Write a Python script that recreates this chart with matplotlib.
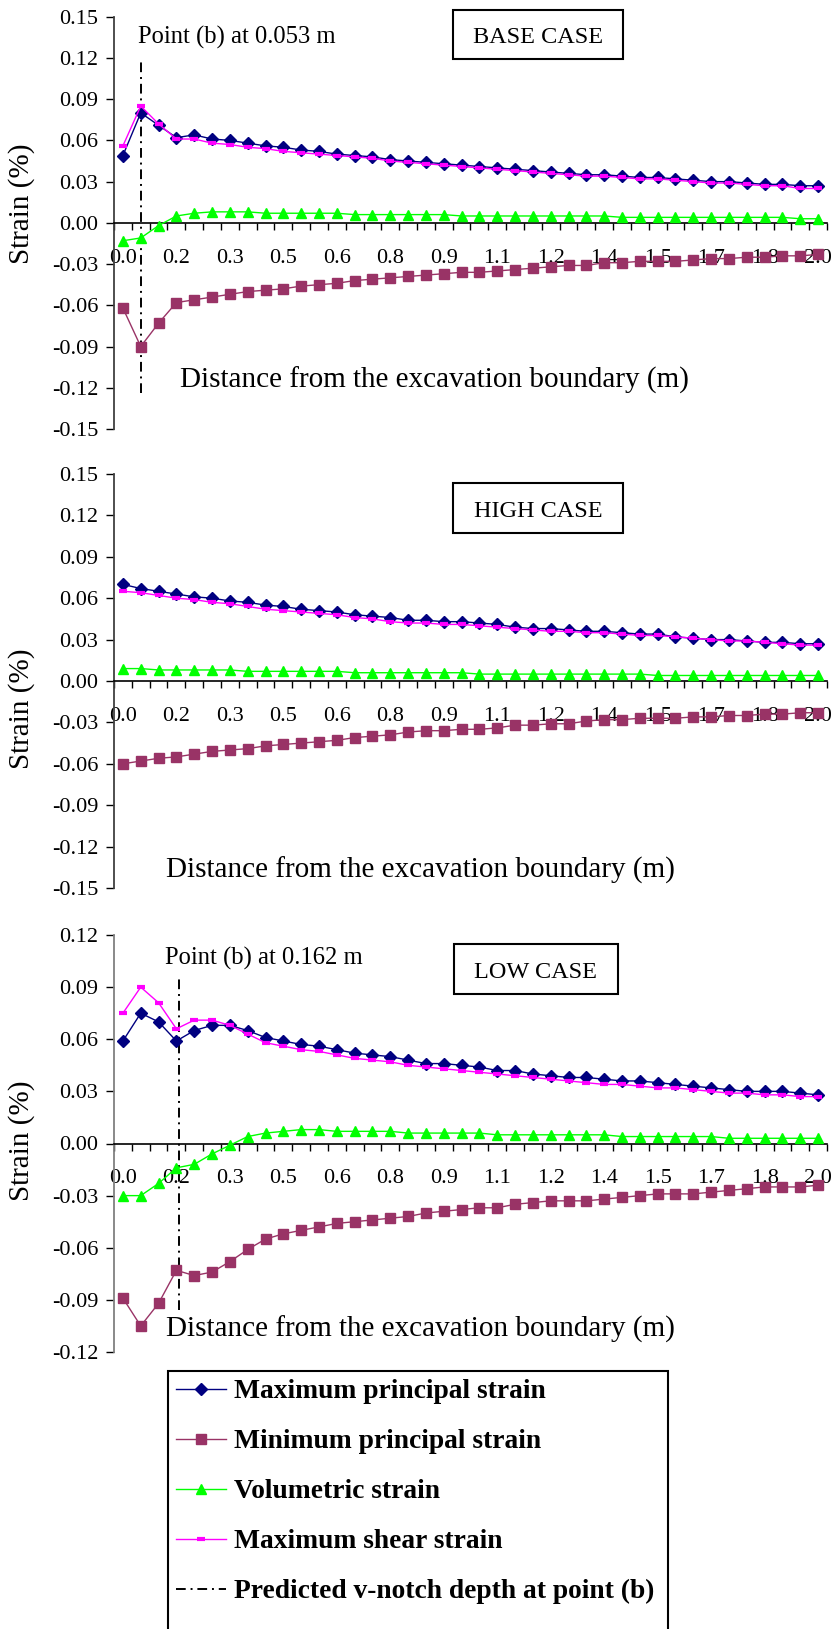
import numpy as np
import matplotlib
matplotlib.use("Agg")
import matplotlib.pyplot as plt
from matplotlib.patches import Rectangle
from matplotlib.lines import Line2D

plt.rcParams['font.family'] = ['Liberation Serif', 'DejaVu Serif']
plt.rcParams['axes.unicode_minus'] = False

# distance from the excavation boundary (m), 40 nodes
dist = np.linspace(0.0, 2.0, 40)

# BASE CASE
base_max = [0.049, 0.080, 0.071, 0.062, 0.064, 0.061, 0.060, 0.058, 0.056, 0.055,
            0.053, 0.052, 0.050, 0.049, 0.048, 0.046, 0.045, 0.044, 0.043, 0.042,
            0.041, 0.040, 0.039, 0.038, 0.037, 0.036, 0.035, 0.035, 0.034, 0.033,
            0.033, 0.032, 0.031, 0.030, 0.030, 0.029, 0.028, 0.028, 0.027, 0.027]
base_min = [-0.062, -0.090, -0.073, -0.058, -0.056, -0.054, -0.052, -0.050, -0.049, -0.048,
            -0.046, -0.045, -0.044, -0.042, -0.041, -0.040, -0.039, -0.038, -0.037, -0.036,
            -0.036, -0.035, -0.034, -0.033, -0.032, -0.031, -0.031, -0.029, -0.029, -0.028,
            -0.028, -0.028, -0.027, -0.026, -0.026, -0.025, -0.025, -0.024, -0.024, -0.023]
base_vol = [-0.013, -0.011, -0.002, 0.005, 0.007, 0.008, 0.008, 0.008, 0.007, 0.007,
            0.007, 0.007, 0.007, 0.006, 0.006, 0.006, 0.006, 0.006, 0.006, 0.005,
            0.005, 0.005, 0.005, 0.005, 0.005, 0.005, 0.005, 0.005, 0.004, 0.004,
            0.004, 0.004, 0.004, 0.004, 0.004, 0.004, 0.004, 0.004, 0.003, 0.003]
base_shear = [0.056, 0.085, 0.072, 0.061, 0.061, 0.058, 0.057, 0.055, 0.054, 0.052,
              0.051, 0.050, 0.049, 0.048, 0.047, 0.045, 0.044, 0.043, 0.042, 0.041,
              0.040, 0.039, 0.038, 0.037, 0.036, 0.035, 0.034, 0.034, 0.033, 0.032,
              0.032, 0.031, 0.030, 0.029, 0.029, 0.028, 0.027, 0.027, 0.025, 0.025]

# HIGH CASE
high_max = [0.070, 0.067, 0.065, 0.063, 0.061, 0.060, 0.058, 0.057, 0.055, 0.054,
            0.052, 0.051, 0.050, 0.048, 0.047, 0.046, 0.044, 0.044, 0.043, 0.043,
            0.042, 0.041, 0.039, 0.038, 0.038, 0.037, 0.036, 0.036, 0.035, 0.034,
            0.034, 0.032, 0.031, 0.030, 0.030, 0.029, 0.028, 0.028, 0.027, 0.027]
high_min = [-0.060, -0.058, -0.056, -0.055, -0.053, -0.051, -0.050, -0.049, -0.047, -0.046,
            -0.045, -0.044, -0.043, -0.041, -0.040, -0.039, -0.037, -0.036, -0.036, -0.035,
            -0.035, -0.034, -0.032, -0.032, -0.031, -0.031, -0.029, -0.028, -0.028, -0.027,
            -0.027, -0.027, -0.026, -0.026, -0.025, -0.025, -0.024, -0.024, -0.023, -0.023]
high_vol = [0.009, 0.009, 0.008, 0.008, 0.008, 0.008, 0.008, 0.007, 0.007, 0.007,
            0.007, 0.007, 0.007, 0.006, 0.006, 0.006, 0.006, 0.006, 0.006, 0.006,
            0.005, 0.005, 0.005, 0.005, 0.005, 0.005, 0.005, 0.005, 0.005, 0.005,
            0.004, 0.004, 0.004, 0.004, 0.004, 0.004, 0.004, 0.004, 0.004, 0.004]
high_shear = [0.065, 0.064, 0.062, 0.060, 0.059, 0.057, 0.056, 0.054, 0.052, 0.051,
              0.050, 0.049, 0.048, 0.046, 0.045, 0.043, 0.042, 0.042, 0.041, 0.041,
              0.040, 0.039, 0.038, 0.037, 0.036, 0.036, 0.035, 0.035, 0.034, 0.033,
              0.033, 0.032, 0.031, 0.030, 0.029, 0.029, 0.028, 0.027, 0.026, 0.026]

# LOW CASE
low_max = [0.059, 0.075, 0.070, 0.059, 0.065, 0.068, 0.068, 0.065, 0.061, 0.059,
           0.057, 0.056, 0.054, 0.052, 0.051, 0.050, 0.048, 0.046, 0.046, 0.045,
           0.044, 0.042, 0.042, 0.040, 0.039, 0.038, 0.038, 0.037, 0.036, 0.036,
           0.035, 0.034, 0.033, 0.032, 0.031, 0.030, 0.030, 0.030, 0.029, 0.028]
low_min = [-0.089, -0.105, -0.092, -0.073, -0.076, -0.074, -0.068, -0.061, -0.055, -0.052,
           -0.050, -0.048, -0.046, -0.045, -0.044, -0.043, -0.042, -0.040, -0.039, -0.038,
           -0.037, -0.037, -0.035, -0.034, -0.033, -0.033, -0.033, -0.032, -0.031, -0.030,
           -0.029, -0.029, -0.029, -0.028, -0.027, -0.026, -0.025, -0.025, -0.025, -0.024]
low_vol = [-0.030, -0.030, -0.023, -0.014, -0.012, -0.006, -0.001, 0.004, 0.006, 0.007,
           0.008, 0.008, 0.007, 0.007, 0.007, 0.007, 0.006, 0.006, 0.006, 0.006,
           0.006, 0.005, 0.005, 0.005, 0.005, 0.005, 0.005, 0.005, 0.004, 0.004,
           0.004, 0.004, 0.004, 0.004, 0.003, 0.003, 0.003, 0.003, 0.003, 0.003]
low_shear = [0.075, 0.090, 0.081, 0.066, 0.071, 0.071, 0.068, 0.063, 0.058, 0.056,
             0.054, 0.053, 0.051, 0.049, 0.048, 0.047, 0.045, 0.044, 0.043, 0.042,
             0.041, 0.040, 0.039, 0.038, 0.037, 0.036, 0.035, 0.034, 0.034, 0.033,
             0.032, 0.032, 0.031, 0.030, 0.029, 0.029, 0.028, 0.028, 0.027, 0.027]

yticks_wide = [-0.15, -0.12, -0.09, -0.06, -0.03, 0.00, 0.03, 0.06, 0.09, 0.12, 0.15]
yticks_low = [-0.12, -0.09, -0.06, -0.03, 0.00, 0.03, 0.06, 0.09, 0.12]

notch_base = 0.053
notch_low = 0.162

series_names = ['Maximum principal strain', 'Minimum principal strain',
                'Volumetric strain', 'Maximum shear strain']
notch_name = 'Predicted v-notch depth at point (b)'

W, H = 836, 1629
fig = plt.figure(figsize=(W / 100, H / 100), dpi=100)


def fx(x):
    return x / W


def fy(y):
    return 1 - y / H


idx = np.arange(len(dist))
step = dist[1] - dist[0]
xlabels = ['%.1f' % d for d in dist[::3]]

styles = [
    dict(color='#000080', marker='D', markersize=6.5),
    dict(color='#993366', marker='s', markersize=6.5),
    dict(color='#00FF00', marker='^', markersize=7.5),
    dict(color='#FF00FF', marker='_', markersize=6, markeredgewidth=3),
]
notch_style = dict(color='black', lw=1.4, ls=(0, (5, 2.5, 1, 2.5)))


def panel(top, bottom, series, yticks, spine_color):
    ax = fig.add_axes([fx(114), fy(bottom), fx(827) - fx(114), (bottom - top) / H])
    ax.set_xlim(-0.5, len(dist) - 0.5)
    ax.set_ylim(yticks[0], yticks[-1])
    ax.spines['top'].set_visible(False)
    ax.spines['right'].set_visible(False)
    ax.spines['bottom'].set_position(('data', 0))
    ax.spines['bottom'].set_linewidth(1.2)
    ax.spines['left'].set_color(spine_color)
    ax.spines['left'].set_linewidth(1.3)

    ax.set_xticks(np.arange(-0.5, len(dist), 1))
    ax.tick_params(axis='x', which='major', direction='out', length=5, width=1,
                   labelbottom=False)
    ax.set_xticks(idx[::3], minor=True)
    ax.set_xticklabels(xlabels, minor=True)
    ax.tick_params(axis='x', which='minor', length=0, pad=18.5, labelsize=16)

    ax.set_yticks(yticks)
    ax.set_yticklabels(['%.2f' % v for v in yticks])
    ax.tick_params(axis='y', direction='out', length=5.5, width=1, pad=6,
                   labelsize=16)

    lines = []
    for vals, st in zip(series, styles):
        ln, = ax.plot(idx, vals, lw=1.0, zorder=3, clip_on=False, **st)
        lines.append(ln)
    return ax, lines


ax1, handles = panel(16.7, 429, [base_max, base_min, base_vol, base_shear],
                     yticks_wide, '#404040')
ax2, _ = panel(474, 888, [high_max, high_min, high_vol, high_shear],
               yticks_wide, '#404040')
ax3, _ = panel(935, 1352, [low_max, low_min, low_vol, low_shear],
               yticks_low, '#808080')

# predicted v-notch depth at point (b)
ax1.axvline(notch_base / step, ymin=0.087, ymax=0.89, **notch_style)
ax3.axvline(notch_low / step, ymin=0.10, ymax=0.894, **notch_style)

fig.text(fx(138), fy(44), 'Point (b) at 0.053 m', fontsize=17.7, va='baseline')
fig.text(fx(165), fy(965), 'Point (b) at 0.162 m', fontsize=17.7, va='baseline')

# case boxes
for (x0, y0, x1, y1), name in [((453, 10, 623, 59), 'BASE CASE'),
                               ((453, 483, 623, 533), 'HIGH CASE'),
                               ((454, 944, 618, 994), 'LOW CASE')]:
    fig.add_artist(Rectangle((fx(x0), fy(y1)), fx(x1) - fx(x0), (y1 - y0) / H,
                             transform=fig.transFigure, fill=False,
                             ec='black', lw=1.5))
    fig.text(fx((x0 + x1) / 2), fy(y1 - 16), name, fontsize=17.5,
             ha='center', va='baseline')

# axis titles
xtitle = 'Distance from the excavation boundary (m)'
for x, y in [(180, 388), (166, 878), (166, 1337)]:
    fig.text(fx(x), fy(y), xtitle, fontsize=21, va='baseline')
for y in [204, 709, 1141]:
    fig.text(fx(22), fy(y), 'Strain (%)', fontsize=21, rotation=90,
             ha='center', va='center')

# legend box runs off the bottom edge of the page
fig.add_artist(Rectangle((fx(168), fy(1645)), fx(668) - fx(168), (1645 - 1371) / H,
                         transform=fig.transFigure, fill=False, ec='black',
                         lw=1.5, clip_on=False))
leg_handles = handles + [Line2D([], [], **notch_style)]
fig.legend(leg_handles, series_names + [notch_name], loc='upper left',
           bbox_to_anchor=(fx(168), fy(1371)), borderaxespad=0, frameon=False,
           prop=dict(size=19.8, weight='bold'), handlelength=1.8,
           handletextpad=0.3, labelspacing=0.9, borderpad=0.3)

fig.savefig('out.png', dpi=100)
